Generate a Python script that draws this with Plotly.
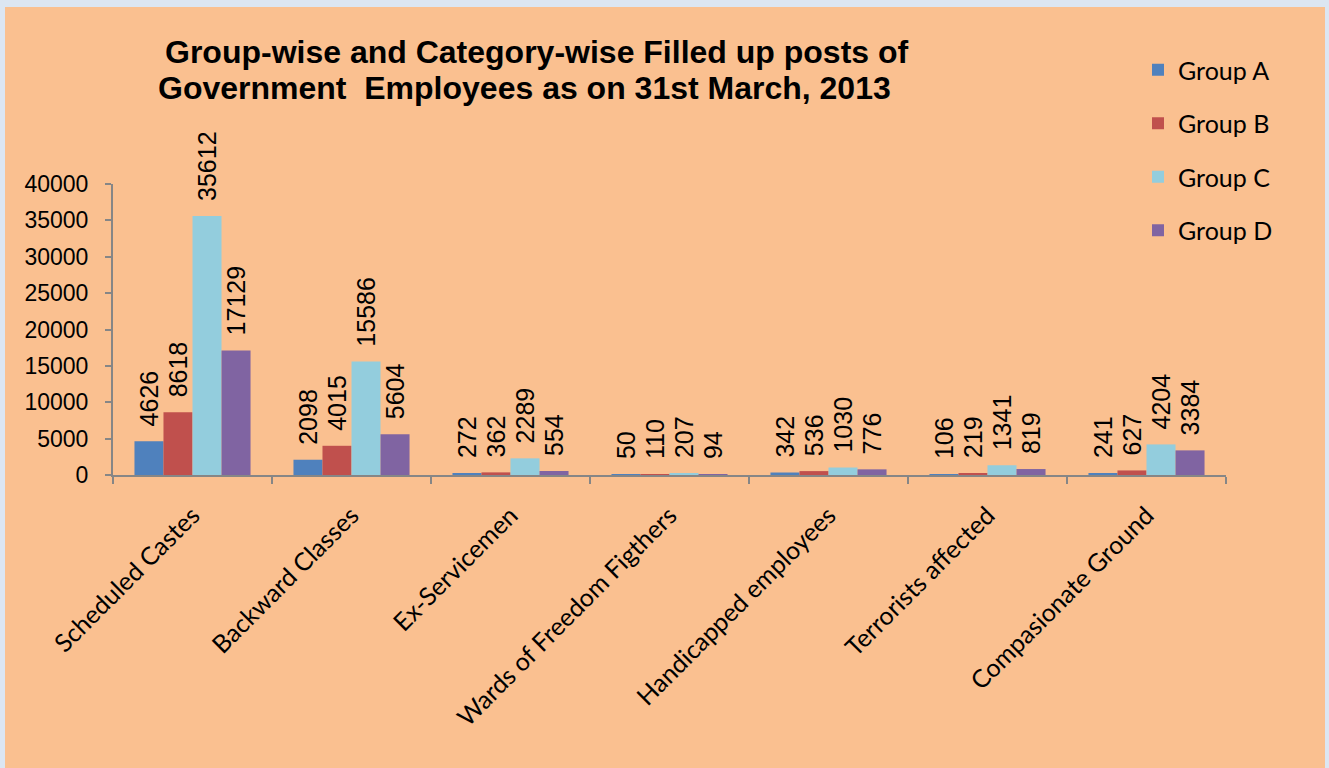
import plotly.graph_objects as go

categories = ["Scheduled Castes", "Backward Classes", "Ex-Servicemen",
              "Wards of Freedom Figthers", "Handicapped employees",
              "Terrorists affected", "Compasionate Ground"]
group_a = [4626, 2098, 272, 50, 342, 106, 241]
group_b = [8618, 4015, 362, 110, 536, 219, 627]
group_c = [35612, 15586, 2289, 207, 1030, 1341, 4204]
group_d = [17129, 5604, 554, 94, 776, 819, 3384]
y_ticks = [0, 5000, 10000, 15000, 20000, 25000, 30000, 35000, 40000]
title_lines = ["Group-wise and Category-wise Filled up posts of",
               "Government\u00a0\u00a0Employees as on 31st March, 2013"]

W, H = 1329, 768
ML, MR, MT, MB = 113, 103, 184, 293
pw, ph = W - ML - MR, H - MT - MB


def px_x(p):
    return (p - ML) / pw


def px_y(p):
    return (H - MB - p) / ph


fig = go.Figure()

series = [("Group A", group_a, "#4F81BD"),
          ("Group B", group_b, "#C0504D"),
          ("Group C", group_c, "#93CDDD"),
          ("Group D", group_d, "#8064A2")]

for name, vals, col in series:
    fig.add_trace(
        go.Bar(
            x=categories,
            y=vals,
            name=name,
            legendgroup=name,
            text=[str(v) for v in vals],
            # leading spaces push the rotated label away from the bar top
            texttemplate="\u00a0\u2009%{text}",
            textposition="outside",
            textangle=-90,
            constraintext="none",
            cliponaxis=False,
            textfont=dict(family="Liberation Sans, Arial", size=25, color="black"),
            marker=dict(color=col, line=dict(width=0)),
        )
    )

# peach panel with thin blue frame
fig.add_shape(type="rect", xref="paper", yref="paper",
              x0=px_x(5), x1=px_x(1325), y0=px_y(780), y1=px_y(7),
              fillcolor="#FAC090", line=dict(width=0), layer="below")

# title, two lines placed separately to keep Excel's tight line spacing
for txt, cx, cy in zip(title_lines, [537, 524], [52, 88]):
    fig.add_annotation(
        text=txt, xref="paper", yref="paper",
        x=px_x(cx), y=px_y(cy), xanchor="center", yanchor="middle",
        showarrow=False,
        font=dict(family="Liberation Sans, Arial", size=32, color="black", weight="bold"),
    )

fig.update_layout(
    width=W, height=H,
    margin=dict(l=ML, r=MR, t=MT, b=MB),
    paper_bgcolor="#DCE6F2",
    plot_bgcolor="rgba(0,0,0,0)",
    barmode="group",
    bargap=0.27,
    bargroupgap=0,
    xaxis=dict(
        tickson="boundaries",
        ticks="outside", ticklen=7, tickcolor="#868686", tickwidth=2,
        showline=True, linecolor="#868686", linewidth=2,
        tickangle=-45,
        ticklabelstandoff=14,
        tickfont=dict(family="Lato, Noto Sans", size=25, color="black"),
        showgrid=False,
    ),
    yaxis=dict(
        range=[0, 40000],
        tickvals=y_ticks,
        ticktext=[str(v) for v in y_ticks],
        ticks="outside", ticklen=6, tickcolor="#868686", tickwidth=2,
        showline=True, linecolor="#868686", linewidth=2,
        ticklabelstandoff=12,
        tickfont=dict(family="Liberation Sans, Arial", size=23, color="black"),
        showgrid=False, zeroline=False,
    ),
    legend=dict(
        x=px_x(1138), xanchor="left",
        y=px_y(47), yanchor="top",
        font=dict(family="Lato, Noto Sans", size=25, color="black"),
        bgcolor="rgba(0,0,0,0)",
        tracegroupgap=18,
        itemwidth=30,
    ),
)

fig.write_html("out.html", config={"displayModeBar": False},
               post_script="document.body.style.margin='0';")
